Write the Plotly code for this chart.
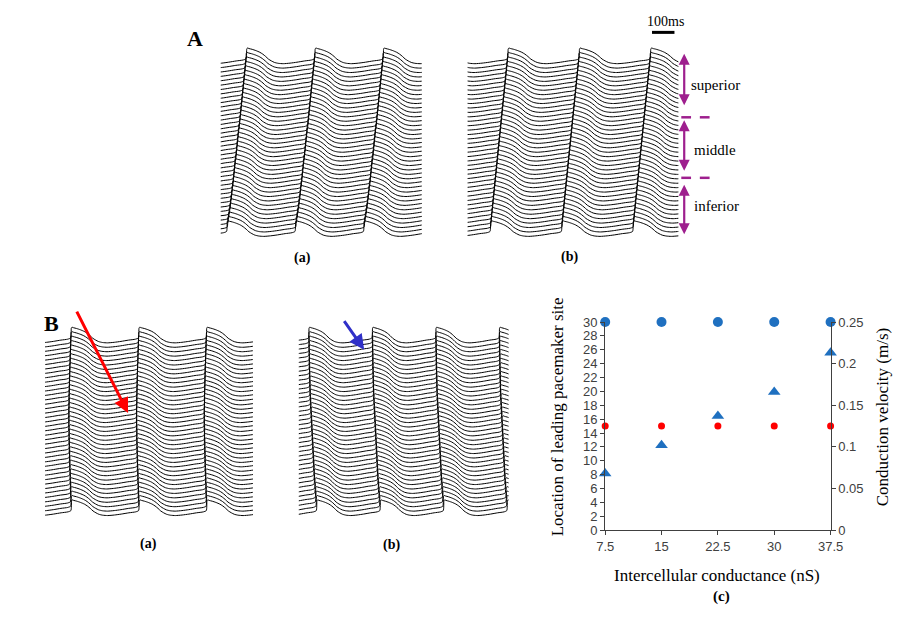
import plotly.graph_objects as go

W, H = 907, 629

# ---------------- data ----------------
# one action-potential cycle (ms, mV) (cycle normalised to 300 ms)
tmpl_t = [0, 3, 6, 13, 26, 43, 60, 73, 86, 98, 111, 124, 141, 163, 193, 223, 257, 287, 300]
tmpl_v = [-38, 15, 20, 17, 13, 6, -3, -13, -26, -40, -50, -58, -63, -65, -62, -57, -50, -45, -38]

n_rows = 40
row_offset_mv = 24

# per-row activation delays (ms), top row -> bottom row
delay_Aa = [87, 85, 83, 81, 79, 77, 75, 73, 71, 69, 67, 65, 63, 61, 59, 57, 55, 52, 50, 48,
            46, 44, 42, 40, 37, 35, 33, 31, 29, 27, 24, 22, 20, 17, 15, 12, 9, 6, 3, 0]
delay_Ab = [78, 76, 74, 72, 70, 68, 66, 64, 62, 60, 58, 56, 54, 52, 50, 48, 46, 44, 42, 40,
            38, 36, 34, 32, 30, 28, 26, 24, 22, 20, 18, 16, 14, 12, 10, 8, 6, 4, 2, 0]
delay_Ba = [10, 9, 8, 8, 7, 6, 6, 5, 4, 4, 3, 3, 2, 2, 1, 1, 1, 0, 0, 0,
            0, 0, 1, 1, 1, 2, 2, 3, 3, 4, 4, 5, 6, 6, 7, 8, 8, 9, 10, 11]
delay_Bb = [0, 0, 1, 1, 1, 2, 2, 2, 3, 3, 4, 4, 5, 5, 6, 7, 8, 9, 10, 11,
            12, 13, 14, 15, 16, 17, 18, 19, 20, 21, 22, 23, 24, 25, 27, 28, 30, 31, 33, 35]

# first activation (ms), cycle length (ms), recording window (ms)
first_act = {"Aa": 26, "Ab": 100, "Ba": 104, "Bb": 43}
cycle_len = {"Aa": 305, "Ab": 318, "Ba": 302, "Bb": 283}
window_ms = {"Aa": 896, "Ab": 940, "Ba": 927, "Bb": 935}
delays = {"Aa": delay_Aa, "Ab": delay_Ab, "Ba": delay_Ba, "Bb": delay_Bb}

# panel (c)
conductance = [7.5, 15, 22.5, 30, 37.5]
site_blue = [30, 30, 30, 30, 30]
site_red = [15, 15, 15, 15, 15]
velocity = [0.068, 0.102, 0.137, 0.166, 0.213]
x_ticks = [7.5, 15, 22.5, 30, 37.5]
x_ticklabels = ["7.5", "15", "22.5", "30", "37.5"]
left_ticks = list(range(0, 31, 2))
right_ticks = [0, 0.05, 0.1, 0.15, 0.2, 0.25]
right_ticklabels = ["0", "0.05", "0.1", "0.15", "0.2", "0.25"]

# ---------------- helpers ----------------
def px(x):
    return x / W

def py(y):
    return 1 - y / H

def build_rows(key):
    xs, ys = [], []
    per = cycle_len[key]
    for i, d in enumerate(delays[key]):
        off = -i * row_offset_mv
        for k in range(-2, 5):
            start = first_act[key] + d + k * per
            for t, v in zip(tmpl_t[:-1], tmpl_v[:-1]):
                xs.append(start + t * per / 300.0)
                ys.append(v + off)
        xs.append(None)
        ys.append(None)
    return xs, ys

fig = go.Figure()

panels = [
    ("Aa", "x", "y", (217, 423), (38, 240)),
    ("Ab", "x2", "y2", (470, 686), (38, 240)),
    ("Ba", "x3", "y3", (37, 250), (324, 526)),
    ("Bb", "x4", "y4", (297, 512), (324, 526)),
]
yr = [-(n_rows - 1) * row_offset_mv - 65 - 26.5, 41.2]
layout_axes = {}
for idx, (key, xa, ya, (x0, x1), (y0, y1)) in enumerate(panels):
    xs, ys = build_rows(key)
    fig.add_trace(go.Scatter(x=xs, y=ys, xaxis=xa, yaxis=ya, mode="lines",
                             line=dict(color="black", width=1.0, shape="spline", smoothing=0.6),
                             hoverinfo="skip", showlegend=False))
    n = "" if idx == 0 else str(idx + 1)
    layout_axes["xaxis" + n] = dict(domain=[px(x0), px(x1)], range=[0, window_ms[key]],
                                    visible=False, anchor="y" + n)
    layout_axes["yaxis" + n] = dict(domain=[py(y1), py(y0)], range=yr,
                                    visible=False, anchor="x" + n)

# panel (c)
fig.add_trace(go.Scatter(x=conductance, y=site_blue, xaxis="x5", yaxis="y5", mode="markers",
                         marker=dict(color="#1F70C0", size=10, symbol="circle"),
                         cliponaxis=False, showlegend=False))
fig.add_trace(go.Scatter(x=conductance, y=site_red, xaxis="x5", yaxis="y5", mode="markers",
                         marker=dict(color="#FF0000", size=7, symbol="circle"),
                         cliponaxis=False, showlegend=False))
fig.add_trace(go.Scatter(x=conductance, y=velocity, xaxis="x5", yaxis="y6", mode="markers",
                         marker=dict(color="#1F70C0", size=11, symbol="triangle-up"),
                         cliponaxis=False, showlegend=False))

tickfont = dict(family="Liberation Sans", size=13, color="#404040")
axis_common = dict(showgrid=False, zeroline=False, showline=True, linecolor="#404040",
                   linewidth=1, ticks="outside", ticklen=4, tickcolor="#404040",
                   tickfont=tickfont)
layout_axes["xaxis5"] = dict(domain=[px(611), px(842)], range=[7.5, 37.5], anchor="y5",
                             tickvals=x_ticks, ticktext=x_ticklabels, **axis_common)
layout_axes["yaxis5"] = dict(domain=[py(536), py(322.7)], range=[0, 30], anchor="x5",
                             tickvals=left_ticks, **axis_common)
layout_axes["yaxis6"] = dict(domain=[py(536), py(322.7)], range=[0, 0.25], anchor="x5",
                             overlaying="y5", side="right", tickvals=right_ticks,
                             ticktext=right_ticklabels, **axis_common)

serif = "Liberation Serif"
ann = []

def text(x, y, s, size, bold=False, xanchor="center", angle=0, color="black"):
    ann.append(dict(x=px(x), y=py(y), xref="paper", yref="paper",
                    text=("<b>%s</b>" % s) if bold else s,
                    showarrow=False, xanchor=xanchor, yanchor="middle", textangle=angle,
                    font=dict(family=serif, size=size, color=color)))

text(191, 32, "A", 22, bold=True)
text(44, 324, "B", 22, bold=True)
text(301, 257, "(a)", 14, bold=True)
text(574, 256, "(b)", 14, bold=True)
text(143, 550, "(a)", 14, bold=True)
text(392, 551, "(b)", 14, bold=True)
text(730, 604, "(c)", 15, bold=True)
text(673, 15, "100ms", 14)
text(697, 80, "superior", 15, xanchor="left")
text(700, 146, "middle", 15, xanchor="left")
text(700, 204, "inferior", 15, xanchor="left")
text(563, 420, "Location of leading pacemaker site", 17, angle=-90)
text(896, 420, "Conduction velocity (m/s)", 17, angle=-90)
text(726, 582, "Intercellular conductance (nS)", 17)

def arrow(x0, y0, x1, y1, color, width, both=False):
    ann.append(dict(x=px(x1), y=py(y1), xref="paper", yref="paper", ax=x0 - x1, ay=y0 - y1,
                    axref="pixel", ayref="pixel", text="", showarrow=True, arrowhead=2,
                    arrowsize=1, arrowwidth=width, arrowcolor=color,
                    arrowside="end+start" if both else "end"))

purple = "#9E1F8E"
arrow(692, 101, 692, 48, purple, 2.2, both=True)
arrow(692, 168, 692, 116, purple, 2.2, both=True)
arrow(692, 233, 692, 182, purple, 2.2, both=True)
arrow(70, 313, 122, 416, "#FF0000", 3)
arrow(343, 321, 364, 351, "#3030C8", 3)

shapes = []
for yy in (113, 175):
    for (a, b) in ((689, 699), (708, 718)):
        shapes.append(dict(type="line", xref="paper", yref="paper", x0=px(a), x1=px(b),
                           y0=py(yy), y1=py(yy), line=dict(color=purple, width=2.5)))
shapes.append(dict(type="line", xref="paper", yref="paper", x0=px(659), x1=px(682),
                   y0=py(26), y1=py(26), line=dict(color="black", width=3)))

fig.update_layout(width=W, height=H, margin=dict(l=0, r=0, t=0, b=0),
                  paper_bgcolor="white", plot_bgcolor="white",
                  annotations=ann, shapes=shapes, **layout_axes)

fig.write_html("out.html", config={"displayModeBar": False},
               post_script="document.body.style.margin='0px';document.body.style.padding='0px';")
